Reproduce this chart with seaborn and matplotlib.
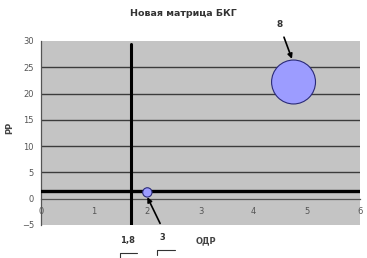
import matplotlib
matplotlib.use("Agg")
import matplotlib.pyplot as plt
import seaborn as sns
import pandas as pd
from matplotlib.lines import Line2D

# data
odr = [2.0, 4.75]          # x: ОДР
rr = [1.2, 22.2]           # y: РР
bubble_label = [3, 8]
threshold_x = 1.7
threshold_y = 1.5
x_ticks = [0, 1, 2, 3, 4, 5, 6]
y_ticks = [-5, 0, 5, 10, 15, 20, 25, 30]
title = "Новая матрица БКГ"
x_label = "ОДР"
y_label = "РР"
threshold_label = "1,8"

df = pd.DataFrame({"ОДР": odr, "РР": rr, "label": bubble_label})

sns.set_style("white")
plt.rcParams["font.family"] = ["DejaVu Sans"]

fig = plt.figure(figsize=(3.67, 2.58), dpi=100)
ax = fig.add_axes([41 / 367, 1 - 225 / 258, 319 / 367, 184 / 258])
ax.set_facecolor("#c4c4c4")

ax.set_xlim(0, 6)
ax.set_ylim(-5, 30)

for yv in y_ticks[2:-1]:
    ax.axhline(yv, color="#3c3c3c", lw=1.0, zorder=1)

sns.scatterplot(data=df, x="ОДР", y="РР", size="label",
                sizes={3: 45, 8: 1000}, color="#9c9cff",
                edgecolor="#2a2a78", linewidth=0.8, legend=False,
                ax=ax, zorder=5)

ax.axvline(threshold_x, color="black", lw=2.2, ymin=0.0, ymax=0.985, zorder=3)
ax.axhline(threshold_y, color="black", lw=2.4, zorder=3)

ax.spines["bottom"].set_position(("data", 0))
ax.spines["bottom"].set_color("#555555")
ax.spines["bottom"].set_linewidth(0.9)
ax.spines["left"].set_color("#555555")
ax.spines["left"].set_linewidth(0.9)
ax.spines["top"].set_visible(False)
ax.spines["right"].set_visible(False)

ax.set_xticks(x_ticks)
ax.set_yticks(y_ticks)
ax.tick_params(axis="x", direction="out", length=2, width=0.8, colors="#555555",
               labelsize=6, labelcolor="#555555", pad=4)
ax.tick_params(axis="y", direction="out", length=3, width=0.8, colors="#555555",
               labelsize=6, labelcolor="#555555", pad=2)
ax.set_xlabel("")
ax.set_ylabel("")

fig.text(183 / 367, 1 - 14 / 258, title, ha="center", va="center",
         fontsize=6.8, fontweight="bold", color="#333333")
fig.text(10 / 367, 1 - 128 / 258, y_label, ha="center", va="center",
         rotation=90, fontsize=6, fontweight="bold", color="#444444")

ax.annotate(str(bubble_label[1]), xy=(4.72, 26.6), xytext=(4.48, 33.2),
            ha="center", va="center", fontsize=6.5, fontweight="bold",
            color="#333333", annotation_clip=False,
            arrowprops=dict(arrowstyle="-|>", color="black", lw=1.2,
                            mutation_scale=7, shrinkA=4, shrinkB=0))
ax.annotate("", xy=(2.0, 0.3), xytext=(2.24, -4.7),
            annotation_clip=False,
            arrowprops=dict(arrowstyle="-|>", color="black", lw=1.2,
                            mutation_scale=7, shrinkA=0, shrinkB=0))

fig.text(127 / 367, 1 - 240 / 258, threshold_label, ha="center", va="center",
         fontsize=6, fontweight="bold", color="#333333")
fig.text(162 / 367, 1 - 238 / 258, str(bubble_label[0]), ha="center", va="center",
         fontsize=6, fontweight="bold", color="#333333")
fig.text(206 / 367, 1 - 241 / 258, x_label, ha="center", va="center",
         fontsize=6, fontweight="bold", color="#444444")

for (x0, x1, yy) in [(120, 137, 253), (157, 175, 250)]:
    fig.add_artist(Line2D([x0 / 367, x0 / 367, x1 / 367],
                          [1 - (yy + 5) / 258, 1 - yy / 258, 1 - yy / 258],
                          color="#333333", lw=0.8))

fig.savefig("out.png", dpi=100)
